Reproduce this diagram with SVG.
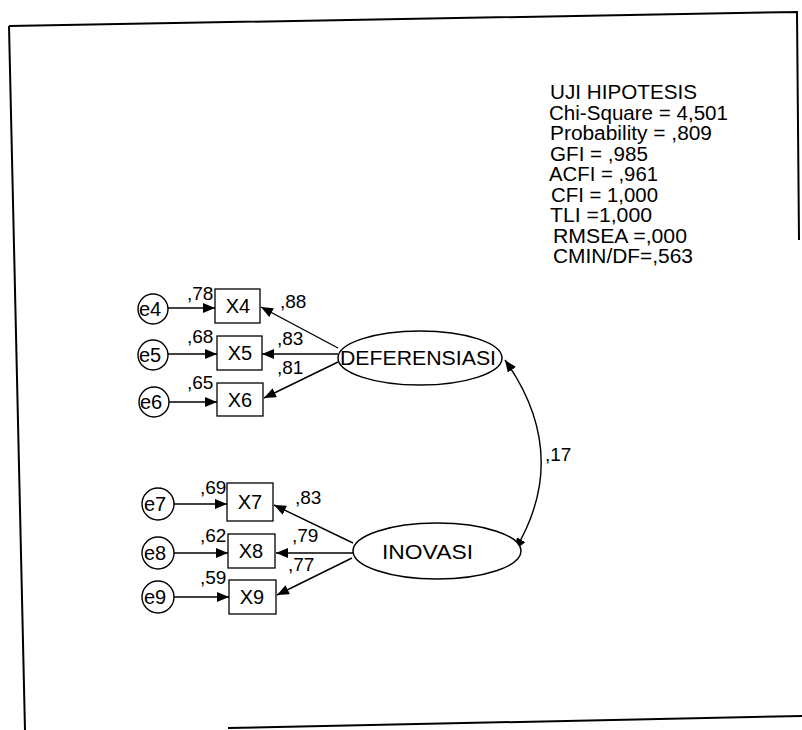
<svg xmlns="http://www.w3.org/2000/svg" width="802" height="730" viewBox="0 0 802 730">
<style>
text{font-family:"Liberation Sans",Arial,sans-serif;fill:#000}
.lbl{font-size:20px;text-anchor:middle}
.coef{font-size:19px}
.stat{font-size:20px}
.box{fill:#fff;stroke:#000;stroke-width:1.3}
.lat{fill:#fff;stroke:#000;stroke-width:1.5}
.err{fill:#fff;stroke:#000;stroke-width:1.4}
.edge{fill:none;stroke:#000;stroke-width:1.4}
.frame{fill:none;stroke:#000;stroke-width:2}
</style>
<defs>
<marker id="ah" markerUnits="userSpaceOnUse" markerWidth="12" markerHeight="10" viewBox="0 0 12 10" refX="12" refY="5" orient="auto-start-reverse">
<path d="M0,0 L12,5 L0,10 Z" fill="#000"/>
</marker>
</defs>
<rect width="802" height="730" fill="#fff"/>
<g id="frame">
<path class="frame" d="M9,26 L797,12 L799,240"/>
<path class="frame" d="M9,26 L25,730"/>
<path class="frame" d="M228,728 L802,716"/>
</g>
<g id="stats">
<text class="stat" x="550" y="99" textLength="147" lengthAdjust="spacingAndGlyphs">UJI HIPOTESIS</text>
<text class="stat" x="549" y="120" textLength="179" lengthAdjust="spacingAndGlyphs">Chi-Square = 4,501</text>
<text class="stat" x="550" y="140" textLength="162" lengthAdjust="spacingAndGlyphs">Probability = ,809</text>
<text class="stat" x="550" y="161" textLength="98" lengthAdjust="spacingAndGlyphs">GFI = ,985</text>
<text class="stat" x="549" y="181" textLength="109" lengthAdjust="spacingAndGlyphs">ACFI = ,961</text>
<text class="stat" x="551" y="202" textLength="107" lengthAdjust="spacingAndGlyphs">CFI = 1,000</text>
<text class="stat" x="550" y="222" textLength="102" lengthAdjust="spacingAndGlyphs">TLI =1,000</text>
<text class="stat" x="553" y="243" textLength="134" lengthAdjust="spacingAndGlyphs">RMSEA =,000</text>
<text class="stat" x="553" y="263" textLength="140" lengthAdjust="spacingAndGlyphs">CMIN/DF=,563</text>
</g>
<g id="connectors">
<line class="edge" x1="168" y1="308" x2="215" y2="308" marker-end="url(#ah)"/>
<line class="edge" x1="168" y1="354" x2="217" y2="354" marker-end="url(#ah)"/>
<line class="edge" x1="169" y1="402" x2="217" y2="402" marker-end="url(#ah)"/>
<line class="edge" x1="338" y1="348" x2="261" y2="307" marker-end="url(#ah)"/>
<line class="edge" x1="338" y1="354" x2="262" y2="354" marker-end="url(#ah)"/>
<line class="edge" x1="338" y1="362" x2="264" y2="398" marker-end="url(#ah)"/>
<line class="edge" x1="174" y1="504" x2="227" y2="504" marker-end="url(#ah)"/>
<line class="edge" x1="174" y1="553" x2="228" y2="553" marker-end="url(#ah)"/>
<line class="edge" x1="174" y1="597" x2="229" y2="597" marker-end="url(#ah)"/>
<line class="edge" x1="353" y1="543" x2="274" y2="505" marker-end="url(#ah)"/>
<line class="edge" x1="353" y1="553" x2="276" y2="553" marker-end="url(#ah)"/>
<line class="edge" x1="352" y1="558" x2="277" y2="595" marker-end="url(#ah)"/>
<path class="edge" d="M505,360 Q572,455 515,550" marker-start="url(#ah)" marker-end="url(#ah)"/>
</g>
<g id="labels">
<text class="coef" x="187" y="300">,78</text>
<text class="coef" x="280" y="308">,88</text>
<text class="coef" x="187" y="343">,68</text>
<text class="coef" x="277" y="345">,83</text>
<text class="coef" x="187" y="389">,65</text>
<text class="coef" x="277" y="374">,81</text>
<text class="coef" x="200" y="494">,69</text>
<text class="coef" x="295" y="504">,83</text>
<text class="coef" x="200" y="542">,62</text>
<text class="coef" x="292" y="542">,79</text>
<text class="coef" x="200" y="584">,59</text>
<text class="coef" x="288" y="571">,77</text>
<text class="coef" x="545" y="461">,17</text>
</g>
<g id="e4"><circle class="err" cx="153" cy="309" r="15"/><text class="lbl" x="150" y="316">e4</text></g>
<g id="e5"><circle class="err" cx="153" cy="355" r="15"/><text class="lbl" x="150" y="362">e5</text></g>
<g id="e6"><circle class="err" cx="154" cy="402" r="15"/><text class="lbl" x="151" y="409">e6</text></g>
<g id="e7"><circle class="err" cx="158" cy="504" r="16"/><text class="lbl" x="155" y="511">e7</text></g>
<g id="e8"><circle class="err" cx="158" cy="553" r="16"/><text class="lbl" x="155" y="560">e8</text></g>
<g id="e9"><circle class="err" cx="158" cy="597" r="16"/><text class="lbl" x="155" y="604">e9</text></g>
<g id="X4"><rect class="box" x="215" y="289" width="45" height="34"/><text class="lbl" x="238" y="313">X4</text></g>
<g id="X5"><rect class="box" x="217" y="336" width="45" height="34"/><text class="lbl" x="240" y="360">X5</text></g>
<g id="X6"><rect class="box" x="217" y="383" width="46" height="33"/><text class="lbl" x="240" y="407">X6</text></g>
<g id="X7"><rect class="box" x="227" y="483" width="46" height="38"/><text class="lbl" x="250" y="509">X7</text></g>
<g id="X8"><rect class="box" x="228" y="534" width="47" height="34"/><text class="lbl" x="251" y="558">X8</text></g>
<g id="X9"><rect class="box" x="229" y="580" width="47" height="34"/><text class="lbl" x="252" y="604">X9</text></g>
<g id="DEFERENSIASI"><ellipse class="lat" cx="420" cy="358" rx="82" ry="27"/><text x="340" y="365" font-size="20" textLength="156" lengthAdjust="spacingAndGlyphs">DEFERENSIASI</text></g>
<g id="INOVASI"><ellipse class="lat" cx="437" cy="551" rx="84" ry="28"/><text x="382" y="559" font-size="21" textLength="91" lengthAdjust="spacingAndGlyphs">INOVASI</text></g>
</svg>
